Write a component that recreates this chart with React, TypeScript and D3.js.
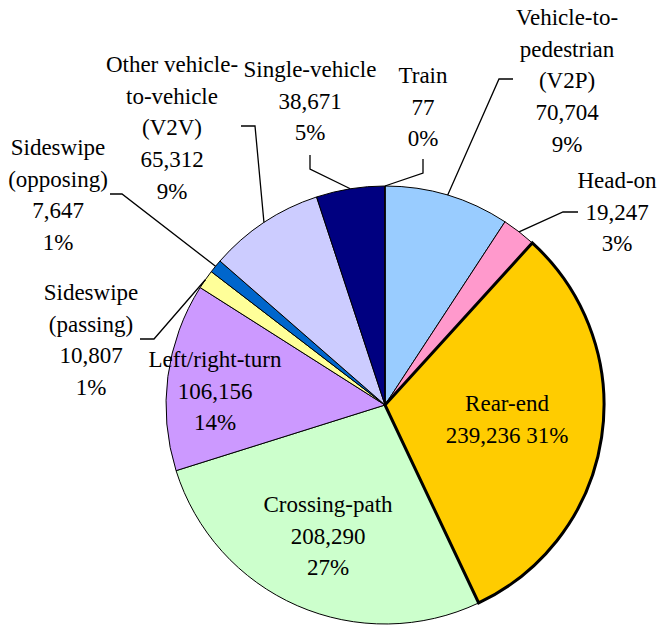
import React, { useRef, useEffect } from 'react'
import * as d3 from 'd3'

// crash types, clockwise from 12 o'clock
const categories = [
  'Vehicle-to-|pedestrian|(V2P)',
  'Head-on',
  'Rear-end',
  'Crossing-path',
  'Left/right-turn',
  'Sideswipe|(passing)',
  'Sideswipe|(opposing)',
  'Other vehicle-|to-vehicle|(V2V)',
  'Single-vehicle',
  'Train',
]
const counts = [70704, 19247, 239236, 208290, 106156, 10807, 7647, 65312, 38671, 77]
const colors = ['#99ccff', '#ff99cc', '#ffcc00', '#ccffcc', '#cc99ff', '#ffff99', '#0066cc', '#ccccff', '#000080', '#ff6600']

// label placement: text center x, first baseline y, optional leader elbow + end
type LabelPos = { x: number; y: number; elbow?: [number, number]; end?: [number, number]; oneLine?: boolean }
const labelPos: LabelPos[] = [
  { x: 567, y: 25, elbow: [499, 79], end: [513, 79] },
  { x: 617, y: 188, elbow: [563, 212], end: [578, 212] },
  { x: 507, y: 411, oneLine: true },
  { x: 328, y: 512 },
  { x: 215, y: 367 },
  { x: 91, y: 300, elbow: [154, 339], end: [140, 339] },
  { x: 58, y: 155, elbow: [122, 194], end: [110, 194] },
  { x: 172, y: 72, elbow: [255, 126], end: [241, 126] },
  { x: 310, y: 77, elbow: [310, 169], end: [310, 155] },
  { x: 423, y: 83, elbow: [423, 173], end: [423, 159] },
]

const W = 662
const H = 629
const cx = 385
const cy = 405
const R = 219
const lineH = 31.7
const FONT = "'Times New Roman', Times, 'Liberation Serif', Tinos, 'Nimbus Roman', 'Noto Serif', 'DejaVu Serif', FreeSerif, serif"

export default function App() {
  const svgRef = useRef<SVGSVGElement>(null)

  useEffect(() => {
    if (!svgRef.current) return
    const svg = d3.select(svgRef.current)
    svg.selectAll('*').remove()

    const data = categories.map((c, i) => ({ name: c, value: counts[i], i }))
    const total = d3.sum(counts)
    const fmt = d3.format(',')

    const pie = d3.pie<any>().sort(null).value((d) => d.value)
    const arcs = pie(data)
    const arc = d3.arc<any>().innerRadius(0).outerRadius(R)
    const edge = d3.arc<any>().innerRadius(R).outerRadius(R)

    const g = svg.append('g').attr('transform', `translate(${cx},${cy})`)

    // thick-bordered slice drawn last so its outline stays on top
    const ordered = [...arcs].sort((a, b) => (a.data.i === 2 ? 1 : 0) - (b.data.i === 2 ? 1 : 0))
    g.selectAll('path.slice')
      .data(ordered)
      .join('path')
      .attr('class', 'slice')
      .attr('d', arc)
      .attr('fill', (d) => colors[d.data.i])
      .attr('stroke', '#000')
      .attr('stroke-width', (d) => (d.data.i === 2 ? 3 : 1))
      .attr('stroke-linejoin', 'miter')

    // leader lines
    arcs.forEach((a) => {
      const p = labelPos[a.data.i]
      if (!p.elbow || !p.end) return
      const [ex, ey] = edge.centroid(a)
      svg
        .append('polyline')
        .attr('points', `${cx + ex},${cy + ey} ${p.elbow[0]},${p.elbow[1]} ${p.end[0]},${p.end[1]}`)
        .attr('fill', 'none')
        .attr('stroke', '#000')
        .attr('stroke-width', 1.3)
    })

    // labels
    arcs.forEach((a) => {
      const p = labelPos[a.data.i]
      const pct = Math.round((a.data.value / total) * 100) + '%'
      const lines = a.data.name.split('|')
      if (p.oneLine) lines.push(`${fmt(a.data.value)} ${pct}`)
      else lines.push(fmt(a.data.value), pct)
      const t = svg
        .append('text')
        .attr('x', p.x)
        .attr('y', p.y)
        .attr('text-anchor', 'middle')
        .style('font-family', FONT)
        .style('font-size', '23px')
        .attr('fill', '#000')
      lines.forEach((l: string, k: number) => {
        t.append('tspan').attr('x', p.x).attr('y', p.y + k * lineH).text(l)
      })
    })
  }, [])

  return (
    <svg
      ref={svgRef}
      width={W}
      height={H}
      style={{ position: 'absolute', left: 0, top: 0, background: '#fff' }}
    />
  )
}
